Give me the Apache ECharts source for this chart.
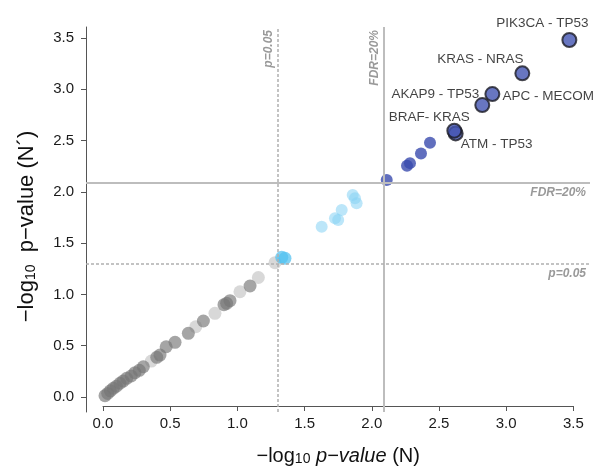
<!DOCTYPE html>
<html><head><meta charset="utf-8">
<script src="https://cdn.jsdelivr.net/npm/echarts@6/dist/echarts.min.js"></script>
<style>html,body{margin:0;padding:0;background:#fff}#c{width:613px;height:471px}</style>
</head><body><div id="c"></div>
<script>
// thresholds
const pThreshold = 1.301;   // -log10(0.05)
const fdrThreshold = 2.09;  // FDR = 20%

// axis ticks
const tickValues = [0, 0.5, 1, 1.5, 2, 2.5, 3, 3.5];

// grey (not significant) points
const grayX = [0.015,0.035,0.055,0.077,0.10,0.126,0.15,0.176,0.21,0.238,0.27,0.30,0.40,0.424,0.47,0.536,0.635,0.747,0.90,0.92,0.945,1.094];
const grayY = [0.013,0.035,0.06,0.085,0.105,0.134,0.155,0.182,0.205,0.237,0.26,0.295,0.387,0.409,0.49,0.533,0.621,0.741,0.90,0.913,0.939,1.082];
const grayFaintX = [0.36,0.69,0.833,1.019,1.156,1.28];
const grayFaintY = [0.35,0.685,0.816,1.026,1.165,1.31];

// light blue (p<0.05) points
const lightX = [1.627,1.726,1.75,1.776,1.858,1.875,1.887];
const lightY = [1.66,1.742,1.725,1.823,1.969,1.937,1.888];
const lightStrongX = [1.33,1.354];
const lightStrongY = [1.362,1.352];

// dark blue (FDR<20%) points
const darkX = [2.111,2.262,2.284,2.366,2.433];
const darkY = [2.115,2.255,2.28,2.375,2.479];

// labelled pairs
const pairNames = ['PIK3CA - TP53','KRAS - NRAS','APC - MECOM','AKAP9 - TP53','ATM - TP53','BRAF- KRAS'];
const pairX = [3.47,3.12,2.897,2.822,2.624,2.614];
const pairY = [3.48,3.155,2.953,2.846,2.57,2.596];
// label offsets (styling, px)
const pairLabelOffsets = [[-27,-17],[-42,-14],[56,2],[-47,-11],[41,11],[-25,-13]];

const zip = (xs, ys) => xs.map((x, i) => [x, ys[i]]);
const FONT = 'Liberation Sans';

const chart = echarts.init(document.getElementById('c'), null, {renderer: 'canvas'});
chart.setOption({
  backgroundColor: '#fff',
  animation: false,
  grid: [
    {left: 86, right: 23, top: 27, bottom: 59},
    {left: 103, right: 39.6, top: 27, bottom: 59},
    {left: 86, right: 23, top: 38, bottom: 74}
  ],
  xAxis: [
    {gridIndex: 0, type: 'value', min: -0.1265, max: 3.6235, show: false},
    {gridIndex: 1, type: 'value', min: tickValues[0], max: tickValues[tickValues.length-1], interval: 0.5,
      axisLine: {show: true, onZero: false, lineStyle: {color: '#555', width: 1}},
      axisTick: {show: true, length: 5, lineStyle: {color: '#555'}},
      axisLabel: {margin: 10, fontSize: 15, color: '#1a1a1a', fontFamily: FONT, formatter: v => v.toFixed(1)},
      splitLine: {show: false},
      name: '−log{s|10} {i|p−value} (N)', nameLocation: 'middle', nameGap: 40,
      nameTextStyle: {fontSize: 20, color: '#111', fontFamily: FONT,
        rich: {s: {fontSize: 14, fontFamily: FONT, color: '#111', verticalAlign: 'bottom', padding: [6,0,0,0]},
               i: {fontSize: 20, fontFamily: FONT, color: '#111', fontStyle: 'italic'}}}
    },
    {gridIndex: 2, type: 'value', min: 0, max: 1, show: false}
  ],
  yAxis: [
    {gridIndex: 0, type: 'value', min: -0.146, max: 3.607,
      axisLine: {show: true, onZero: false, lineStyle: {color: '#555', width: 1}},
      axisTick: {show: false}, axisLabel: {show: false}, splitLine: {show: false}},
    {gridIndex: 1, type: 'value', min: 0, max: 1, show: false},
    {gridIndex: 2, type: 'value', min: tickValues[0], max: tickValues[tickValues.length-1], interval: 0.5,
      axisLine: {show: false, onZero: false},
      axisTick: {show: true, length: 5, lineStyle: {color: '#555'}},
      axisLabel: {margin: 12, fontSize: 15, color: '#1a1a1a', fontFamily: FONT, formatter: v => v.toFixed(1)},
      splitLine: {show: false},
      name: '−log{s|10}  p−value (N´)', nameLocation: 'middle', nameGap: 48, nameRotate: 90,
      nameTextStyle: {fontSize: 22, color: '#111', fontFamily: FONT, padding: [0, 18, 0, 0],
        rich: {s: {fontSize: 14, fontFamily: FONT, color: '#111', verticalAlign: 'bottom', padding: [7,0,0,0]}}}
    }
  ],
  series: [
    {type: 'scatter', xAxisIndex: 0, yAxisIndex: 0, data: [], z: 1,
      markLine: {silent: true, symbol: 'none', animation: false,
        label: {fontSize: 12, fontStyle: 'italic', fontWeight: 'bold', color: '#999', fontFamily: FONT},
        data: [
          {xAxis: pThreshold, lineStyle: {type: [3, 2], color: '#b0b0b0', width: 1.5},
            label: {formatter: 'p=0.05', position: 'insideEndTop', distance: 3}},
          {xAxis: fdrThreshold, lineStyle: {type: 'solid', color: '#bdbdbd', width: 2},
            label: {formatter: 'FDR=20%', position: 'insideEndTop', distance: 3}},
          {yAxis: pThreshold, lineStyle: {type: [3, 2], color: '#b0b0b0', width: 1.5},
            label: {formatter: 'p=0.05', position: 'insideEndBottom', distance: 4}},
          {yAxis: fdrThreshold, lineStyle: {type: 'solid', color: '#bdbdbd', width: 2},
            label: {formatter: 'FDR=20%', position: 'insideEndBottom', distance: 4}}
        ]}
    },
    {type: 'scatter', xAxisIndex: 0, yAxisIndex: 0, z: 2, symbolSize: 13,
      itemStyle: {color: 'rgba(185,185,185,0.7)'}, data: zip(grayFaintX, grayFaintY)},
    {type: 'scatter', xAxisIndex: 0, yAxisIndex: 0, z: 3, symbolSize: 13,
      itemStyle: {color: 'rgba(118,118,118,0.82)'}, data: zip(grayX, grayY)},
    {type: 'scatter', xAxisIndex: 0, yAxisIndex: 0, z: 3, symbolSize: 12,
      itemStyle: {color: 'rgba(135,210,244,0.7)'}, data: zip(lightX, lightY)},
    {type: 'scatter', xAxisIndex: 0, yAxisIndex: 0, z: 4, symbolSize: 13,
      itemStyle: {color: 'rgba(80,192,240,0.9)'}, data: zip(lightStrongX, lightStrongY)},
    {type: 'scatter', xAxisIndex: 0, yAxisIndex: 0, z: 4, symbolSize: 12,
      itemStyle: {color: '#3a4bae'}, data: zip(darkX, darkY)},
    {type: 'scatter', xAxisIndex: 0, yAxisIndex: 0, z: 5, symbolSize: 14,
      itemStyle: {color: '#4254b2', borderColor: '#1c1c24', borderWidth: 2},
      label: {show: true, position: 'inside', formatter: p => p.name, fontSize: 13.5, color: '#111', fontFamily: FONT},
      data: pairNames.map((n, i) => ({name: n, value: [pairX[i], pairY[i]], label: {offset: pairLabelOffsets[i]}}))}
  ]
});
</script>
</body></html>
